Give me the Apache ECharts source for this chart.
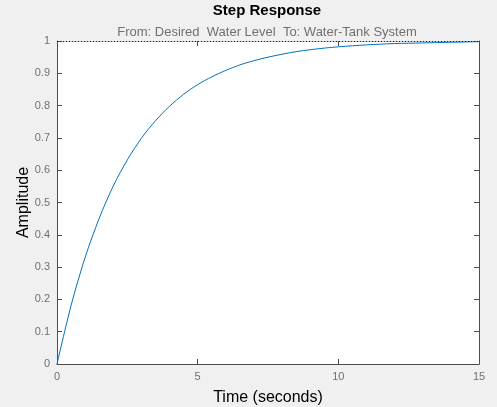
<!DOCTYPE html>
<html>
<head>
<meta charset="utf-8">
<script src="https://cdn.jsdelivr.net/npm/echarts@6/dist/echarts.min.js"></script>
<style>
html,body{margin:0;padding:0;background:#f0f0f0;}
#c{width:497px;height:407px;}
</style>
</head>
<body>
<div id="c"></div>
<script>
// Data
const timeValues = [0, 0.5, 1, 1.5, 2, 2.5, 3, 3.5, 4, 4.5, 5, 5.5, 6, 6.5, 7, 7.5, 8, 8.5, 9, 9.5, 10, 11, 12, 13, 14, 15];
const amplitudeValues = [0, 0.181, 0.330, 0.451, 0.551, 0.632, 0.699, 0.753, 0.798, 0.835, 0.865, 0.889, 0.909, 0.926, 0.939, 0.950, 0.959, 0.967, 0.973, 0.978, 0.982, 0.988, 0.992, 0.994, 0.996, 0.998];
const steadyState = 1;
const titleText = 'Step Response';
const subtitleText = 'From: Desired  Water Level  To: Water-Tank System';
const xAxisName = 'Time (seconds)';
const yAxisName = 'Amplitude';

const points = timeValues.map((t, i) => [t, amplitudeValues[i]]);
const axisColor = '#4d4d4d';
const labelColor = '#707070';
const font = 'Liberation Sans, Arial, sans-serif';

const chart = echarts.init(document.getElementById('c'), null, {renderer: 'canvas'});
chart.setOption({
  backgroundColor: '#f0f0f0',
  animation: false,
  title: [
    {text: titleText, left: 262, top: -2, textAlign: 'center',
     textStyle: {fontFamily: font, fontSize: 15, fontWeight: 'bold', color: '#000'}},
    {text: subtitleText, left: 262, top: 21, textAlign: 'center',
     textStyle: {fontFamily: font, fontSize: 13, fontWeight: 'normal', color: '#707070'}}
  ],
  grid: {left: 57, right: 18, top: 41, bottom: 43, show: true, backgroundColor: '#fff', borderWidth: 0,
         containLabel: false, outerBoundsMode: 'none'},
  xAxis: [
    {type: 'value', min: 0, max: 15, interval: 5, position: 'bottom',
     name: xAxisName, nameLocation: 'middle', nameGap: 26, nameMoveOverlap: false,
     nameTextStyle: {fontFamily: font, fontSize: 16, color: '#000'},
     axisLine: {show: true, onZero: false, lineStyle: {color: axisColor, width: 1}},
     axisTick: {show: true, inside: true, length: 5, lineStyle: {color: axisColor}},
     axisLabel: {color: labelColor, fontSize: 11, margin: 7, fontFamily: font},
     splitLine: {show: false}},
    {type: 'value', min: 0, max: 15, interval: 5, position: 'top',
     axisLine: {show: true, onZero: false, lineStyle: {color: '#bbbbbb', width: 1}},
     axisTick: {show: true, inside: true, length: 5, lineStyle: {color: axisColor}},
     axisLabel: {show: false}, splitLine: {show: false}}
  ],
  yAxis: [
    {type: 'value', min: 0, max: 1, interval: 0.1, position: 'left',
     name: yAxisName, nameLocation: 'middle', nameGap: 25, nameRotate: 90, nameMoveOverlap: false,
     nameTextStyle: {fontFamily: font, fontSize: 16, color: '#000'},
     axisLine: {show: true, onZero: false, lineStyle: {color: axisColor, width: 1}},
     axisTick: {show: true, inside: true, length: 5, lineStyle: {color: axisColor}},
     axisLabel: {color: labelColor, fontSize: 11, margin: 7, fontFamily: font,
       formatter: v => String(Math.round(v * 10) / 10)},
     splitLine: {show: false}},
    {type: 'value', min: 0, max: 1, interval: 0.1, position: 'right',
     axisLine: {show: true, onZero: false, lineStyle: {color: axisColor, width: 1}},
     axisTick: {show: true, inside: true, length: 5, lineStyle: {color: axisColor}},
     axisLabel: {show: false}, splitLine: {show: false}}
  ],
  series: [{
    type: 'line', data: points, xAxisIndex: 0, yAxisIndex: 0,
    smooth: 0.3, showSymbol: false, symbol: 'none',
    lineStyle: {color: '#0072BD', width: 1},
    markLine: {silent: true, symbol: 'none', label: {show: false},
      lineStyle: {color: '#222', type: [1, 2], width: 1},
      data: [{yAxis: steadyState}]}
  }]
});
</script>
</body>
</html>
